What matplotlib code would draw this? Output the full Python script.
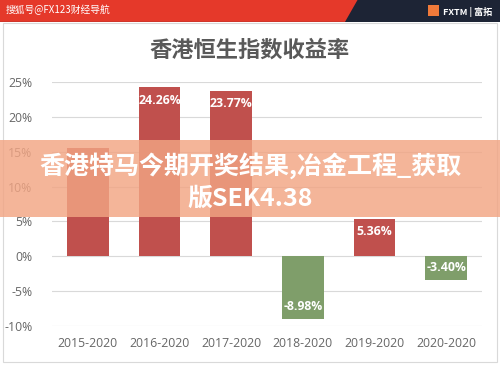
import matplotlib
matplotlib.use("Agg")
import matplotlib.pyplot as plt
from matplotlib.patches import Polygon, Rectangle

plt.rcParams['font.family'] = ['Noto Sans CJK SC', 'DejaVu Sans']

periods = ["2015-2020", "2016-2020", "2017-2020", "2018-2020", "2019-2020", "2020-2020"]
returns = [15.5, 24.26, 23.77, -8.98, 5.36, -3.40]
show_label = [False, True, True, True, True, True]
yticks = [-10, -5, 0, 5, 10, 15, 20, 25]

fig = plt.figure(figsize=(5, 3.65), dpi=100)
fig.patch.set_facecolor("white")

# chart frame (behind the axes)
fig.patches.append(Rectangle((0.006, 0.008), 0.988, 0.93, transform=fig.transFigure,
                             facecolor="white", edgecolor="#d9d9d9", lw=0.8, zorder=-5))

# header bar
fig.patches.append(Rectangle((0, 0.94), 1, 0.06, transform=fig.transFigure,
                             facecolor="#1d2435", edgecolor="none"))
fig.patches.append(Polygon([(0, 0.94), (0.69, 0.94), (0.715, 1.0), (0, 1.0)],
                           closed=True, transform=fig.transFigure,
                           facecolor="#e5392a", edgecolor="none"))
fig.text(0.012, 0.972, "搜狐号@FX123财经导航", color="white", fontsize=7,
         va="center", ha="left")
fig.text(0.985, 0.968, "FXTM | 富拓", color="white", fontsize=6.5,
         va="center", ha="right", weight="bold")
fig.patches.append(Rectangle((0.855, 0.955), 0.022, 0.03, transform=fig.transFigure,
                             facecolor="#f07a3a", edgecolor="none"))

fig.text(0.5, 0.862, "香港恒生指数收益率", color="#595959", fontsize=16,
         weight="bold", ha="center", va="center")

ax = fig.add_axes([0.104, 0.107, 0.86, 0.668])
ax.set_zorder(2)
ax.patch.set_alpha(0)
x = list(range(len(periods)))
colors = ["#c0504d" if v >= 0 else "#7f9e6a" for v in returns]
ax.bar(x, returns, width=0.58, color=colors, zorder=3)
for i, v in enumerate(returns):
    if not show_label[i]:
        continue
    ax.text(i, v - 0.9 if v >= 0 else v + 0.9, f"{v:.2f}%" if v >= 0 else f"-{abs(v):.2f}%",
            ha="center", va="top" if v >= 0 else "bottom", color="white",
            fontsize=8.8, weight="bold", family="Open Sans", zorder=4)

ax.set_ylim(-10, 25)
ax.set_xlim(-0.5, 5.5)
ax.set_yticks(yticks)
ax.set_yticklabels([f"{t}%" for t in yticks], family="Open Sans")
ax.set_xticks(x)
ax.set_xticklabels(periods, family="Open Sans")
ax.tick_params(axis="both", length=0, labelsize=8.8, colors="#666666")
ax.tick_params(axis="y", pad=14)
ax.tick_params(axis="x", pad=8)
ax.grid(axis="y", color="#d9d9d9", lw=0.8, zorder=0)
for s in ax.spines.values():
    s.set_visible(False)

# overlay banner (on top of everything)
banner = fig.add_axes([0, 0.405, 1, 0.212])
banner.set_zorder(10)
banner.axis("off")
banner.add_patch(Rectangle((0, 0), 1, 1, transform=banner.transAxes,
                           facecolor="#f2a583", edgecolor="none", alpha=0.82))
banner.text(0.5, 0.67, "香港特马今期开奖结果,冶金工程_获取", color="white", fontsize=18,
            weight="bold", ha="center", va="center", transform=banner.transAxes)
banner.text(0.5, 0.24, "版SEK4.38", color="white", fontsize=18,
            weight="bold", ha="center", va="center", transform=banner.transAxes)

fig.savefig("out.png", dpi=100)
